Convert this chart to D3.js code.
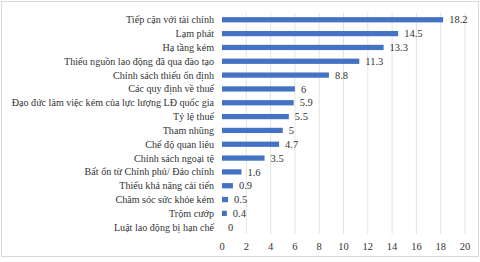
<!DOCTYPE html>
<html lang="vi">
<head>
<meta charset="UTF-8">
<script src="https://d3js.org/d3.v7.min.js"></script>
<style>
  body { margin: 0; background: #fff; }
  svg text { fill: #333; }
</style>
</head>
<body>
<div id="chart"></div>
<script>
// chart data
const categories = [
  "Tiếp cận với tài chính",
  "Lạm phát",
  "Hạ tầng kém",
  "Thiếu nguồn lao động đã qua đào tạo",
  "Chính sách thiếu ổn định",
  "Các quy định về thuế",
  "Đạo đức làm việc kém của lực lượng LĐ quốc gia",
  "Tỷ lệ thuế",
  "Tham nhũng",
  "Chế độ quan liêu",
  "Chính sách ngoại tệ",
  "Bất ổn từ Chính phủ/ Đảo chính",
  "Thiếu khả năng cải tiến",
  "Chăm sóc sức khỏe kém",
  "Trộm cướp",
  "Luật lao động bị hạn chế"
];
const values = [18.2, 14.5, 13.3, 11.3, 8.8, 6, 5.9, 5.5, 5, 4.7, 3.5, 1.6, 0.9, 0.5, 0.4, 0];
const ticks = [0, 2, 4, 6, 8, 10, 12, 14, 16, 18, 20];

const W = 480, H = 262;
const plotL = 222, plotR = 465, plotT = 13, plotB = 234;

const svg = d3.select("#chart").append("svg")
  .attr("width", W).attr("height", H)
  .attr("font-family", "'Liberation Serif', 'Times New Roman', serif");

// outer frame
svg.append("rect")
  .attr("x", 1.5).attr("y", 1.5)
  .attr("width", W - 3).attr("height", 255)
  .attr("fill", "none").attr("stroke", "#d9d9d9");

const x = d3.scaleLinear().domain([0, 20]).range([plotL, plotR]);
const y = d3.scaleBand().domain(categories).range([plotT, plotB]).paddingInner(0.62).paddingOuter(0.3);

// gridlines
svg.append("g").selectAll("line")
  .data(ticks.slice(1))
  .enter().append("line")
  .attr("x1", d => x(d)).attr("x2", d => x(d))
  .attr("y1", plotT).attr("y2", plotB)
  .attr("stroke", "#e3e3e3").attr("stroke-width", 1);

// x tick labels
svg.append("g").selectAll("text")
  .data(ticks)
  .enter().append("text")
  .attr("x", d => x(d)).attr("y", 250)
  .attr("text-anchor", "middle")
  .attr("font-size", 10.5)
  .text(d => d);

// bars
svg.append("g").selectAll("rect")
  .data(values)
  .enter().append("rect")
  .attr("x", x(0))
  .attr("y", (d, i) => y(categories[i]))
  .attr("width", d => x(d) - x(0))
  .attr("height", y.bandwidth())
  .attr("fill", "#4472c4");

// category labels
svg.append("g").selectAll("text")
  .data(categories)
  .enter().append("text")
  .attr("x", plotL - 8)
  .attr("y", d => y(d) + y.bandwidth() / 2)
  .attr("dy", "0.35em")
  .attr("text-anchor", "end")
  .attr("font-size", 10.1)
  .text(d => d);

// value labels
svg.append("g").selectAll("text")
  .data(values)
  .enter().append("text")
  .attr("x", d => x(d) + 6)
  .attr("y", (d, i) => y(categories[i]) + y.bandwidth() / 2)
  .attr("dy", "0.35em")
  .attr("font-size", 10.5)
  .text(d => d);
</script>
</body>
</html>
